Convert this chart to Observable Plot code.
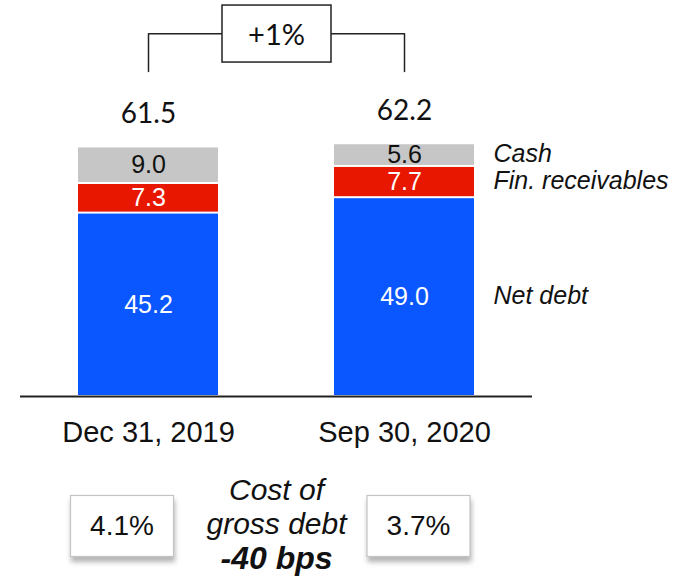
<!DOCTYPE html>
<html><head><meta charset="utf-8">
<script src="https://cdn.jsdelivr.net/npm/d3@7"></script>
<script src="https://cdn.jsdelivr.net/npm/@observablehq/plot@0.6"></script>
<style>
body{margin:0;background:#fff}
svg{font-family:"Liberation Sans",Arial,sans-serif}
</style>
</head><body><div id="chart"></div>
<script>
// ---- data ----
const categories = ["Dec 31, 2019", "Sep 30, 2020"];
const components = ["Net debt", "Fin. receivables", "Cash"];
const netDebt = [45.2, 49.0];
const finReceivables = [7.3, 7.7];
const cash = [9.0, 5.6];
const totals = [61.5, 62.2];
const changeLabel = "+1%";
const costOfDebt = ["4.1%", "3.7%"];
const costTitle = ["Cost of", "gross debt"];
const costChange = "-40 bps";
const colors = ["#0A57FF", "#E81700", "#C6C6C6"];

// ---- derived rows ----
const series = [netDebt, finReceivables, cash];
const rows = [];
categories.forEach((c, i) => {
  let acc = 0;
  components.forEach((comp, j) => {
    const v = series[j][i];
    rows.push({category: c, component: comp, value: v, y1: acc, y2: acc + v, mid: acc + v / 2});
    acc += v;
  });
});
const totalRows = categories.map((c, i) => ({category: c, total: totals[i]}));
const maxTotal = d3.max(totals);
const bracketLow = maxTotal + 17.9;
const bracketHigh = maxTotal + 27.2;
const bracket = [
  {category: categories[0], y: bracketLow},
  {category: categories[0], y: bracketHigh},
  {category: categories[1], y: bracketHigh},
  {category: categories[1], y: bracketLow}
];

const bottomText = (data, x, o) => Plot.text(data, {x, text: d => d, frameAnchor: "bottom", lineAnchor: "middle", fill: "#111", ...o});

const plot = Plot.plot({
  width: 683, height: 585,
  marginTop: 0, marginBottom: 189, marginLeft: 20, marginRight: 151,
  x: {domain: categories, range: [78, 474], paddingInner: 0.453125, paddingOuter: 0, axis: null},
  y: {domain: [0, 97.6], range: [396, 0], axis: null},
  color: {domain: components, range: colors},
  marks: [
    Plot.barY(rows, {x: "category", y1: "y1", y2: "y2", fill: "component", insetTop: 1, insetBottom: 1}),
    Plot.ruleY([0], {stroke: "#222", strokeWidth: 2}),
    Plot.text(rows.filter(d => d.component !== "Cash"), {x: "category", y: "mid", text: d => d.value.toFixed(1), fill: "#fff", fontSize: 25}),
    Plot.text(rows.filter(d => d.component === "Cash"), {x: "category", y: "mid", text: d => d.value.toFixed(1), fill: "#111", fontSize: 25}),
    Plot.text(rows.filter(d => d.category === categories[1]), {x: "category", y: "mid", text: "component", textAnchor: "start", dx: 89, dy: -1, fontStyle: "italic", fontSize: 25, fill: "#111"}),
    Plot.text(totalRows, {x: "category", y: "total", text: d => d.total.toFixed(1), dy: -33, fontSize: 28, fontFamily: "Lato", fill: "#111"}),
    Plot.line(bracket, {x: "category", y: "y", stroke: "#222", strokeWidth: 1.5, curve: "linear"}),
    Plot.text([changeLabel], {x: () => categories[0], y: () => bracketHigh, dx: 128, dy: 2, text: d => d, fontSize: 29, fontFamily: "Lato", fill: "#111", className: "boxed-change"}),
    bottomText(categories, d => d, {dy: 36, fontSize: 29}),
    bottomText([costOfDebt[0]], () => categories[0], {dx: -26.5, dy: 130, fontSize: 28, className: "boxed-cost"}),
    bottomText([costOfDebt[1]], () => categories[1], {dx: 14, dy: 130, fontSize: 28, className: "boxed-cost"}),
    bottomText([costTitle[0]], () => categories[0], {dx: 128, dy: 94, fontSize: 30, fontStyle: "italic"}),
    bottomText([costTitle[1]], () => categories[0], {dx: 128, dy: 128, fontSize: 30, fontStyle: "italic"}),
    bottomText([costChange], () => categories[0], {dx: 128, dy: 162, fontSize: 32, fontStyle: "italic", fontWeight: "bold"})
  ]
});
document.getElementById("chart").appendChild(plot);

// ---- boxes behind annotation texts ----
const svg = d3.select(plot);
const defs = svg.insert("defs", ":first-child");
const f = defs.append("filter").attr("id", "shadow").attr("x", "-20%").attr("y", "-20%").attr("width", "150%").attr("height", "160%");
f.append("feDropShadow").attr("dx", 1).attr("dy", 5).attr("stdDeviation", 2.5).attr("flood-color", "#777").attr("flood-opacity", 0.55);

function boxAround(cls, w, h, attrs) {
  svg.selectAll("g." + cls + " text").each(function() {
    const bb = this.getBBox();
    const cx = bb.x + bb.width / 2, cy = bb.y + bb.height / 2;
    const r = document.createElementNS("http://www.w3.org/2000/svg", "rect");
    r.setAttribute("x", cx - w / 2);
    r.setAttribute("y", cy - h / 2);
    r.setAttribute("width", w);
    r.setAttribute("height", h);
    const t = this.getAttribute("transform");
    if (t) r.setAttribute("transform", t);
    for (const k in attrs) r.setAttribute(k, attrs[k]);
    this.parentNode.insertBefore(r, this);
  });
}
boxAround("boxed-change", 109, 57, {fill: "#fff", stroke: "#222", "stroke-width": 1.5});
boxAround("boxed-cost", 103, 61, {fill: "#fff", stroke: "#c4c4c4", "stroke-width": 1.2, filter: "url(#shadow)"});
</script>
</body></html>
